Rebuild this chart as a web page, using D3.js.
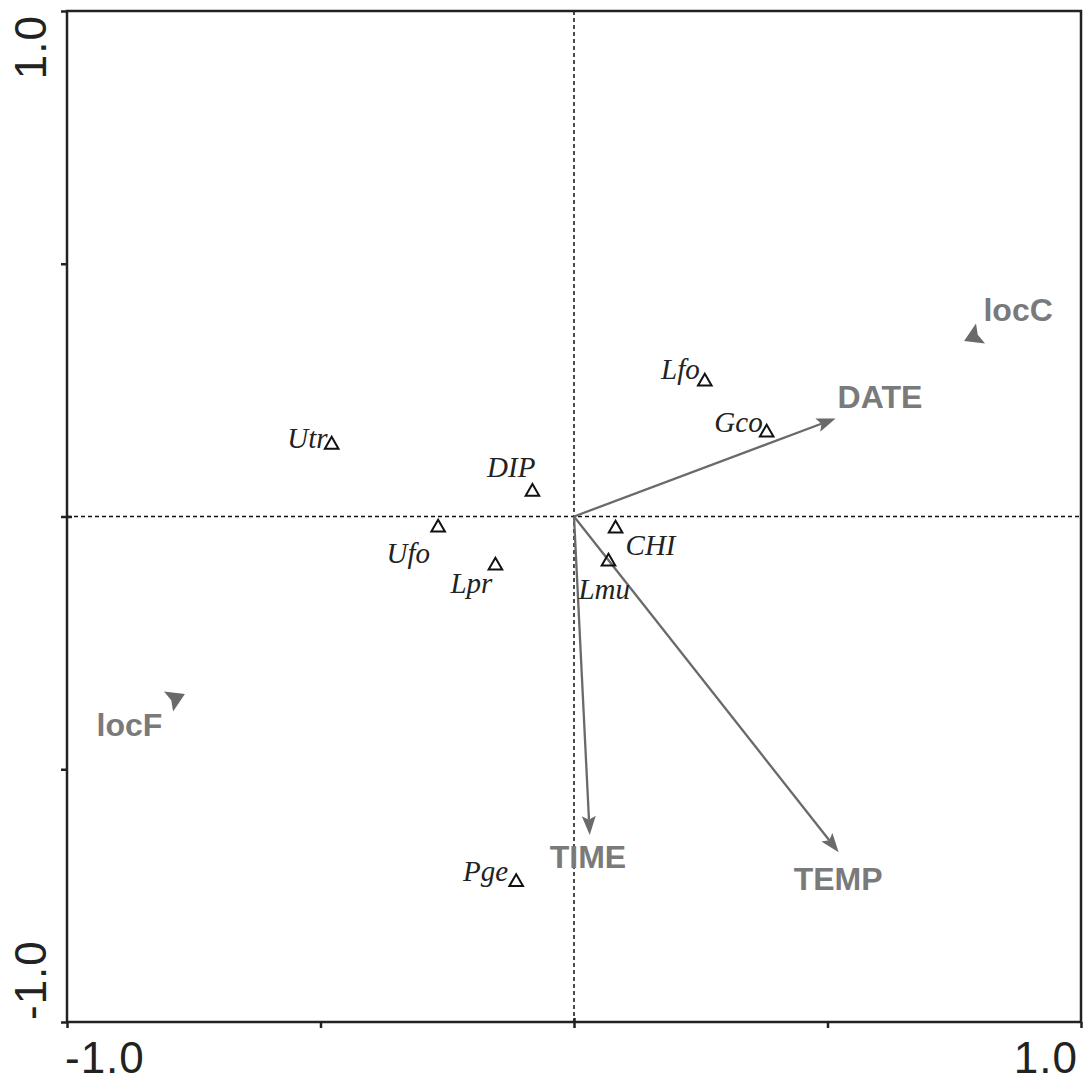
<!DOCTYPE html>
<html>
<head>
<meta charset="utf-8">
<script src="https://cdn.jsdelivr.net/npm/d3@7"></script>
<style>
  html, body { margin: 0; padding: 0; background: #fff; }
  svg { display: block; }
</style>
</head>
<body>
<svg id="chart" width="1086" height="1082"></svg>
<script>
// Species scores (ordination axes 1 and 2)
const speciesNames = ["Lfo", "Gco", "Utr", "DIP", "Ufo", "Lpr", "CHI", "Lmu", "Pge"];
const speciesX = [0.258, 0.380, -0.478, -0.082, -0.268, -0.155, 0.082, 0.068, -0.114];
const speciesY = [0.267, 0.166, 0.142, 0.049, -0.022, -0.097, -0.024, -0.089, -0.723];
// label placement relative to the marker: [dx, dy, anchor]
const speciesLabelPos = [
  [-5, -3, "end"], [-4, -1, "end"], [-4, 3, "end"], [3, -15, "end"],
  [-8, 35, "end"], [-3, 27, "end"], [10, 26, "start"], [-30, 38, "start"],
  [-8, -1, "end"]
];

// Quantitative environmental variables (arrows from the origin)
const envNames = ["DATE", "TIME", "TEMP"];
const envX = [0.516, 0.031, 0.522];
const envY = [0.194, -0.630, -0.664];
const envLabelPos = [[2, -10, "start"], [-40, 33, "start"], [-45, 38, "start"]];

// Nominal environmental variables (centroids)
const nomNames = ["locC", "locF"];
const nomX = [0.782, -0.780];
const nomY = [0.353, -0.357];
const nomLabelPos = [[13, -17, "start"], [-82, 39, "start"]];

const axisTicks = [-1, -0.5, 0, 0.5, 1];
const axisTickLabels = ["-1.0", "1.0"];

const svg = d3.select("#chart");
const x = d3.scaleLinear().domain([-1, 1]).range([67, 1081]);
const y = d3.scaleLinear().domain([-1, 1]).range([1022, 11]);

const axisColor = "#222";
const envColor = "#6a6a6a";
const envText = "#7a7a7a";

// Zero reference lines
svg.append("line")
  .attr("x1", x(-1)).attr("x2", x(1)).attr("y1", y(0)).attr("y2", y(0))
  .attr("stroke", "#111").attr("stroke-width", 1.5).attr("stroke-dasharray", "4,3");
svg.append("line")
  .attr("x1", x(0)).attr("x2", x(0)).attr("y1", y(1)).attr("y2", y(-1))
  .attr("stroke", "#111").attr("stroke-width", 1.5).attr("stroke-dasharray", "4,3");

// Frame
svg.append("rect")
  .attr("x", x(-1)).attr("y", y(1))
  .attr("width", x(1) - x(-1)).attr("height", y(-1) - y(1))
  .attr("fill", "none").attr("stroke", axisColor).attr("stroke-width", 2.5);

// Axes with outward ticks
const bottomAxis = d3.axisBottom(x).tickValues(axisTicks).tickSize(6).tickFormat("");
const leftAxis = d3.axisLeft(y).tickValues(axisTicks).tickSize(6).tickFormat("");
const gb = svg.append("g").attr("transform", `translate(0,${y(-1)})`).call(bottomAxis);
const gl = svg.append("g").attr("transform", `translate(${x(-1)},0)`).call(leftAxis);
[gb, gl].forEach(g => {
  g.select(".domain").remove();
  g.selectAll(".tick line").attr("stroke", axisColor).attr("stroke-width", 2.5);
});
// zero ticks cross the axis
gb.selectAll(".tick").filter(d => d === 0).select("line").attr("y1", -4);
gl.selectAll(".tick").filter(d => d === 0).select("line").attr("x1", 5);

// Axis end labels
const tickFont = "'Liberation Sans', Arial, sans-serif";
const tickSize = 44;
svg.append("text").attr("x", x(-1) - 2).attr("y", 1073)
  .attr("text-anchor", "start").attr("font-family", tickFont).attr("font-size", tickSize)
  .attr("letter-spacing", 1).attr("fill", "#222").text(axisTickLabels[0]);
svg.append("text").attr("x", x(1) - 3).attr("y", 1073)
  .attr("text-anchor", "end").attr("font-family", tickFont).attr("font-size", tickSize)
  .attr("letter-spacing", 1).attr("fill", "#222").text(axisTickLabels[1]);
svg.append("text").attr("transform", `translate(46,${y(1) + 4}) rotate(-90)`)
  .attr("text-anchor", "end").attr("font-family", tickFont).attr("font-size", tickSize)
  .attr("letter-spacing", 1).attr("fill", "#222").text(axisTickLabels[1]);
svg.append("text").attr("transform", `translate(46,${y(-1) - 2}) rotate(-90)`)
  .attr("text-anchor", "start").attr("font-family", tickFont).attr("font-size", tickSize)
  .attr("letter-spacing", 1).attr("fill", "#222").text(axisTickLabels[0]);

// Arrowhead path pointing along +x with its tip at the origin
const headLen = 19, headHalf = 7;
const headPath = `M0,0 L${-headLen},${-headHalf} L${-headLen * 0.8},0 L${-headLen},${headHalf} Z`;

const labelFont = (sel) => sel
  .attr("font-family", tickFont).attr("font-weight", "bold").attr("font-size", 32)
  .attr("fill", envText);

// Environmental arrows
envNames.forEach((name, i) => {
  const x0 = x(0), y0 = y(0), x1 = x(envX[i]), y1 = y(envY[i]);
  const ang = Math.atan2(y1 - y0, x1 - x0);
  svg.append("line")
    .attr("x1", x0).attr("y1", y0)
    .attr("x2", x1 - Math.cos(ang) * headLen * 0.8).attr("y2", y1 - Math.sin(ang) * headLen * 0.8)
    .attr("stroke", envColor).attr("stroke-width", 2.3);
  svg.append("path").attr("d", headPath)
    .attr("transform", `translate(${x1},${y1}) rotate(${ang * 180 / Math.PI})`)
    .attr("fill", envColor);
  const p = envLabelPos[i];
  svg.append("text").attr("x", x1 + p[0]).attr("y", y1 + p[1])
    .attr("text-anchor", p[2]).call(labelFont).text(name);
});

// Nominal variable centroids: filled arrowheads directed towards the origin
nomNames.forEach((name, i) => {
  const px = x(nomX[i]), py = y(nomY[i]);
  const ang = Math.atan2(y(0) - py, x(0) - px);
  svg.append("path").attr("d", `M7,0 L-11,-11 L-8,0 L-11,11 Z`)
    .attr("transform", `translate(${px},${py}) rotate(${ang * 180 / Math.PI})`)
    .attr("fill", envColor);
  const p = nomLabelPos[i];
  svg.append("text").attr("x", px + p[0]).attr("y", py + p[1])
    .attr("text-anchor", p[2]).call(labelFont).text(name);
});

// Species: open triangles with italic labels
const tri = d3.symbol().type(d3.symbolTriangle).size(80);
speciesNames.forEach((name, i) => {
  const px = x(speciesX[i]), py = y(speciesY[i]);
  svg.append("path").attr("d", tri())
    .attr("transform", `translate(${px},${py})`)
    .attr("fill", "none").attr("stroke", "#111").attr("stroke-width", 2);
  const p = speciesLabelPos[i];
  svg.append("text").attr("x", px + p[0]).attr("y", py + p[1])
    .attr("text-anchor", p[2])
    .attr("font-family", "'Liberation Serif', 'Times New Roman', serif")
    .attr("font-style", "italic").attr("font-size", 29)
    .attr("fill", "#222").text(name);
});
</script>
</body>
</html>
